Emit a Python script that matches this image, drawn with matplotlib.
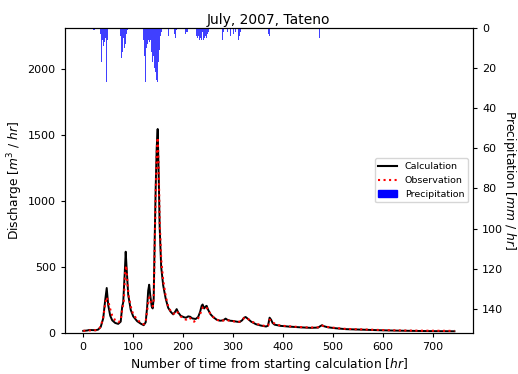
import matplotlib
matplotlib.use('Agg')
import matplotlib.pyplot as plt
from matplotlib.lines import Line2D
from matplotlib.patches import Patch

# Discharge, calculated (hour, m3/hr)
calc_hours = [0, 8, 12, 25, 30, 35, 40, 44, 47, 50, 54, 58, 64, 70, 75, 78, 80, 83, 85, 87,
              90, 95, 100, 108, 115, 121, 125, 128, 130, 132, 134, 137, 139, 141, 143, 145,
              147, 149, 151, 153, 156, 160, 165, 170, 175, 180, 184, 187, 190, 195, 202, 206,
              210, 214, 218, 225, 230, 234, 237, 239, 242, 245, 247, 250, 255, 260, 267, 274,
              280, 285, 288, 294, 300, 307, 313, 318, 322, 325, 330, 336, 346, 356, 366, 370,
              373, 376, 379, 383, 395, 410, 434, 455, 470, 475, 478, 482, 490, 505, 526, 560,
              592, 625, 658, 700, 743]
calc_q = [15, 18, 22, 20, 25, 45, 110, 250, 340, 210, 130, 95, 75, 68, 85, 200, 230, 450, 615, 480,
          290, 175, 125, 88, 70, 58, 80, 200, 320, 365, 290, 200, 185, 260, 700, 1100,
          1400, 1545, 1200, 800, 500, 360, 260, 190, 160, 140, 160, 180, 155, 130, 118, 115,
          125, 122, 110, 105, 120, 160, 205, 215, 185, 200, 205, 175, 140, 120, 100, 92,
          95, 108, 100, 92, 90, 85, 82, 95, 115, 120, 105, 85, 65, 55, 48, 55,
          115, 100, 75, 62, 53, 48, 42, 38, 40, 52, 58, 50, 42, 35, 28, 24,
          20, 17, 15, 13, 12]

# Discharge, observed (hour, m3/hr)
obs_hours = [0, 10, 25, 32, 36, 40, 44, 47, 50, 54, 58, 64, 70, 75, 78, 81, 84, 86, 88, 91,
             95, 100, 108, 115, 121, 125, 128, 131, 133, 136, 139, 141, 143, 145, 147, 149,
             151, 153, 156, 160, 165, 170, 175, 180, 184, 187, 190, 195, 202, 206, 210, 214,
             218, 222, 226, 230, 234, 237, 240, 243, 246, 250, 255, 260, 267, 274, 280, 285,
             290, 295, 300, 307, 313, 318, 322, 326, 330, 336, 346, 356, 366, 370, 373, 376,
             380, 385, 395, 410, 434, 455, 470, 475, 478, 482, 490, 505, 526, 560, 592, 625,
             658, 700, 743]
obs_q = [15, 18, 20, 30, 60, 120, 220, 270, 240, 180, 130, 95, 80, 95, 180, 230, 470, 510, 400, 280,
         200, 140, 100, 78, 65, 80, 170, 260, 270, 220, 200, 250, 650, 1050, 1350, 1480,
         1250, 850, 560, 400, 280, 200, 165, 145, 150, 165, 150, 125, 105, 100, 115, 112,
         90, 85, 100, 110, 140, 180, 195, 200, 195, 175, 140, 120, 100, 90, 93, 100,
         95, 88, 88, 82, 85, 100, 112, 115, 105, 88, 70, 58, 50, 55, 100, 95,
         78, 65, 55, 50, 44, 40, 42, 50, 55, 50, 44, 37, 30, 26, 22, 19,
         17, 16, 15]

# Precipitation (hour, mm/hr)
rain_hours = [21, 22, 23,
              34, 35, 36, 37, 38, 39, 40, 41, 42, 43, 44, 45, 46, 47, 48, 49, 50,
              52, 54,
              74, 75, 76, 77, 78, 79, 80, 81, 82, 83, 84, 85, 86, 87, 88, 89,
              94,
              121, 122, 123, 124, 125, 126, 127, 128, 129, 130, 131, 132, 133, 134, 135, 136,
              137, 138, 139, 140, 141, 142, 143, 144, 145, 146, 147, 148, 149, 150, 151, 152,
              153, 154, 155, 156, 157, 158,
              170, 171, 183, 184, 185, 186, 187, 205, 206, 207, 208, 209, 210,
              226, 227, 228, 229, 230, 231, 232, 233, 234, 235, 236, 237, 238, 239, 240, 241,
              242, 243, 244, 245, 246, 247, 248, 249, 250, 251,
              278, 279, 280, 281, 289, 290, 292, 295, 298, 301, 302, 305, 308, 311, 313, 315,
              371, 372, 373, 472, 473]
rain_mm = [1, 2, 1,
           2, 3, 4, 17, 8, 6, 12, 9, 10, 7, 6, 5, 8, 27, 10, 6, 3,
           2, 1,
           2, 4, 6, 15, 9, 12, 7, 5, 6, 10, 43, 8, 5, 3, 2, 1,
           1,
           6, 4, 14, 8, 27, 21, 10, 6, 8, 5, 6, 9, 7, 4, 6, 8,
           12, 10, 17, 9, 14, 24, 20, 36, 22, 15, 26, 18, 27, 12, 17, 9,
           11, 6, 4, 3, 2, 1,
           2, 4, 3, 9, 5, 2, 1, 3, 5, 2, 4, 2, 1,
           2, 4, 3, 5, 2, 4, 9, 6, 3, 5, 4, 6, 3, 2, 4, 6,
           12, 5, 7, 4, 3, 5, 2, 3, 1, 2,
           3, 6, 4, 2, 2, 3, 3, 4, 2, 3, 4, 2, 3, 6, 4, 2,
           3, 18, 4, 2, 5]

plt.rcParams['font.size'] = 8
plt.rcParams['xtick.major.size'] = 3
plt.rcParams['ytick.major.size'] = 3

fig, ax = plt.subplots(figsize=(5.18, 3.74), dpi=100)
fig.subplots_adjust(left=0.125, right=0.913, bottom=0.11, top=0.925)

ax.plot(calc_hours, calc_q, color='black', linewidth=1.4)
ax.plot(obs_hours, obs_q, color='red', linestyle=':', linewidth=1.5)
ax.set_ylim(0, 2310)
ax.set_xlim(-37, 780)
ax.set_xticks([0, 100, 200, 300, 400, 500, 600, 700])
ax.set_yticks([0, 500, 1000, 1500, 2000])
ax.set_xlabel('Number of time from starting calculation [$hr$]', fontsize=8.8, labelpad=3)
ax.set_ylabel('Discharge [$m^3$ / $hr$]', fontsize=8.8, labelpad=2)
ax.set_title('July, 2007, Tateno', fontsize=10, pad=3)

ax2 = ax.twinx()
ax2.bar(rain_hours, rain_mm, width=1.0, color='blue', alpha=0.75, linewidth=0)
ax2.set_ylim(152, 0)
ax2.set_yticks([0, 20, 40, 60, 80, 100, 120, 140])
ax2.set_ylabel('Precipitation [$mm$ / $hr$]', fontsize=8.8, rotation=270, labelpad=11)

handles = [Line2D([], [], color='black', linewidth=1.5),
           Line2D([], [], color='red', linestyle=':', linewidth=1.5),
           Patch(color='blue')]
ax2.legend(handles, ['Calculation', 'Observation', 'Precipitation'],
           loc='center right', fontsize=6.8)

fig.savefig('out.png', dpi=100)
